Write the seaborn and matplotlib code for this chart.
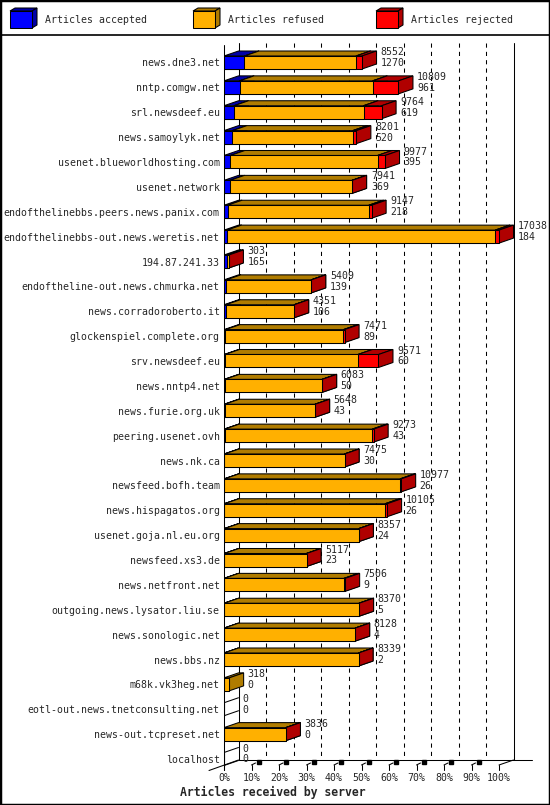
import matplotlib
matplotlib.use('Agg')
import matplotlib.pyplot as plt
from matplotlib.patches import Polygon, Rectangle
from matplotlib.lines import Line2D
import pandas as pd
import seaborn as sns

servers = [
    'news.dne3.net', 'nntp.comgw.net', 'srl.newsdeef.eu', 'news.samoylyk.net',
    'usenet.blueworldhosting.com', 'usenet.network', 'endofthelinebbs.peers.news.panix.com',
    'endofthelinebbs-out.news.weretis.net', '194.87.241.33', 'endoftheline-out.news.chmurka.net',
    'news.corradoroberto.it', 'glockenspiel.complete.org', 'srv.newsdeef.eu', 'news.nntp4.net',
    'news.furie.org.uk', 'peering.usenet.ovh', 'news.nk.ca', 'newsfeed.bofh.team',
    'news.hispagatos.org', 'usenet.goja.nl.eu.org', 'newsfeed.xs3.de', 'news.netfront.net',
    'outgoing.news.lysator.liu.se', 'news.sonologic.net', 'news.bbs.nz', 'm68k.vk3heg.net',
    'eotl-out.news.tnetconsulting.net', 'news-out.tcpreset.net', 'localhost',
]
offered = [8552, 10809, 9764, 8201, 9977, 7941, 9147, 17038, 303, 5409, 4351, 7471, 9571, 6083,
           5648, 9273, 7475, 10977, 10105, 8357, 5117, 7506, 8370, 8128, 8339, 318, 0, 3836, 0]
accepted = [1270, 961, 619, 520, 395, 369, 218, 184, 165, 139, 106, 89, 60, 50,
            43, 43, 30, 26, 26, 24, 23, 9, 5, 4, 2, 0, 0, 0, 0]
# estimated from the red segment widths
rejected = [370, 1600, 1120, 220, 460, 10, 170, 230, 20, 10, 5, 70, 1270, 5,
            5, 80, 5, 60, 120, 5, 5, 70, 3, 3, 2, 0, 0, 3, 0]
tick_labels = ['0%', '10%', '20%', '30%', '40%', '50%', '60%', '70%', '80%', '90%', '100%']
legend_labels = ['Articles accepted', 'Articles refused', 'Articles rejected']

colors = {
    'accepted': ('#0000FF', '#0000A8'),
    'refused': ('#FFB000', '#B07C00'),
    'rejected': ('#FF0000', '#B00000'),
}

W, H = 550, 805
PX = 2.75            # pixels per percent
ROW0, ROWH = 62.5, 24.875


def xd(px):
    return (px - 224) / PX


def yd(py):
    return (py - ROW0) / ROWH


sns.set_theme(style='white')
plt.rcParams['font.family'] = ['DejaVu Sans Mono']
FS = 7.1

df = pd.DataFrame({'server': servers, 'offered': offered,
                   'accepted': accepted, 'rejected': rejected})
df['refused'] = df.offered - df.accepted - df.rejected
scale = 100 / df.offered.max()
for k in ['accepted', 'refused', 'rejected', 'offered']:
    df[k + '_pct'] = df[k] * scale
df['accref_pct'] = df.accepted_pct + df.refused_pct

fig = plt.figure(figsize=(W / 100, H / 100), dpi=100)
ax = fig.add_axes([224 / W, (H - 770) / H, 316 / W, 730 / H])

bw = 13 / ROWH
dx = 14.5 / PX
dy = 5 / ROWH

# front faces, drawn as overlapping cumulative bars
for col, key, z in [('offered_pct', 'rejected', 3.0),
                    ('accref_pct', 'refused', 3.1),
                    ('accepted_pct', 'accepted', 3.2)]:
    sns.barplot(data=df, x=col, y='server', color=colors[key][0], saturation=1,
                width=bw, edgecolor='black', linewidth=0.75, ax=ax, orient='h')
    for p in ax.containers[-1]:
        p.set_zorder(z)

# top and side faces for the 3d look
for i, row in df.iterrows():
    y0, y1 = i - bw / 2, i + bw / 2
    start = 0
    for key, z in [('accepted', 1.0), ('refused', 1.1), ('rejected', 1.2)]:
        w = row[key + '_pct']
        if w <= 0:
            continue
        end = start + w
        dark = colors[key][1]
        top = [(start, y0), (end, y0), (end + dx, y0 - dy), (start + dx, y0 - dy)]
        side = [(end, y0), (end, y1), (end + dx, y1 - dy), (end + dx, y0 - dy)]
        for poly in (top, side):
            ax.add_patch(Polygon(poly, closed=True, facecolor=dark, edgecolor='black',
                                 linewidth=0.75, zorder=z))
        start = end
    if row.offered == 0:
        for yy in (y0, y1):
            ax.plot([0, dx], [yy, yy - dy], color='black', lw=0.75, zorder=2)
    xt = row.offered_pct + dx + 1.5
    ax.text(xt, i - 0.42, str(row.offered), va='center', ha='left', fontsize=FS, zorder=5)
    ax.text(xt, i + 0.02, str(row.accepted), va='center', ha='left', fontsize=FS, zorder=5)

# back wall, grid and floor
ln = dict(color='black', lw=0.75, clip_on=False)
for k in range(10, 100, 10):
    ax.plot([k + dx, k + dx], [yd(43), yd(760)], ls=(0, (4, 4)), zorder=0.5, **ln)
ax.plot([dx, dx], [yd(43), yd(760)], zorder=0.6, **ln)
ax.plot([100 + dx, 100 + dx], [yd(43), yd(760)], zorder=0.6, **ln)
ax.plot([0, 0], [yd(45), yd(770)], zorder=4, **ln)
ax.plot([dx, xd(532)], [yd(760), yd(760)], zorder=0.6, **ln)
ax.plot([xd(209), dx], [yd(770.5), yd(760)], zorder=0.6, **ln)
ax.plot([100, 100 + dx], [yd(765), yd(760)], zorder=0.6, **ln)
for k in range(0, 101, 10):
    ax.plot([k, k], [yd(765), yd(770)], zorder=0.6, **ln)
    if 0 < k < 100:
        ax.plot([k, k + 4 / PX], [yd(765), yd(763)], zorder=0.6, **ln)
        ax.plot([k + 7 / PX], [yd(762)], marker='s', ms=2.5, color='black',
                clip_on=False, zorder=0.6)

ax.set_xlim(0, 316 / PX)
ax.set_ylim(yd(770), yd(40))
ax.set_xticks(range(0, 101, 10))
ax.set_xticklabels(tick_labels, fontsize=FS)
ax.tick_params(axis='x', length=0, pad=2)
ax.tick_params(axis='y', length=0, pad=3, labelsize=FS)
ax.set_xlabel('')
ax.set_ylabel('')
for s in ax.spines.values():
    s.set_visible(False)
ax.patch.set_alpha(0)

fig.text(180 / W, 1 - 792 / H, 'Articles received by server', fontsize=8.3,
         fontweight='bold', ha='left', va='center')

# legend strip
lax = fig.add_axes([0, (H - 35) / H, 1, 35 / H])
lax.set_xlim(0, W)
lax.set_ylim(35, 0)
lax.axis('off')
for x0, key, label in zip([10, 193, 376], ['accepted', 'refused', 'rejected'], legend_labels):
    front, dark = colors[key]
    lax.add_patch(Polygon([(x0, 11), (x0 + 22, 11), (x0 + 27, 8), (x0 + 5, 8)],
                          facecolor=dark, edgecolor='black', lw=0.75))
    lax.add_patch(Polygon([(x0 + 22, 11), (x0 + 22, 28), (x0 + 27, 25), (x0 + 27, 8)],
                          facecolor=dark, edgecolor='black', lw=0.75))
    lax.add_patch(Rectangle((x0, 11), 22, 17, facecolor=front, edgecolor='black', lw=0.75))
    lax.text(x0 + 35, 20, label, va='center', ha='left', fontsize=FS)

fig.add_artist(Line2D([0, 1], [1 - 35.5 / H, 1 - 35.5 / H], color='black', lw=1.2,
                      transform=fig.transFigure))
fig.add_artist(Rectangle((0, 0), 1, 1, transform=fig.transFigure, fill=False,
                         edgecolor='black', lw=2.5))

fig.savefig('out.png', dpi=100)
